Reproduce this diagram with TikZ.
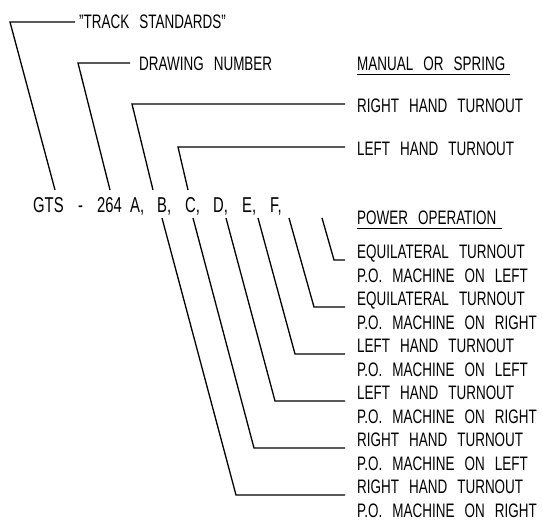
\documentclass[tikz,border=0pt]{standalone}
\usepackage{fontspec}
\setmainfont{Liberation Sans}[FakeStretch=0.69, WordSpace=2.7]
\usetikzlibrary{positioning}

\begin{document}
\begin{tikzpicture}[x=1pt, y=-1pt,
    lbl/.style={anchor=base west, inner sep=0pt, font=\fontsize{19.5}{23.5}\selectfont},
    code/.style={lbl, font=\fontsize{21.5}{24}\selectfont},
    entry/.style={lbl, anchor=north west, align=left},
    lead/.style={line width=1.3pt, line join=miter},
  ]
  \useasboundingbox (0,0) rectangle (543,520);

  % code string
  \node[code] (gts) at (33,212)  {GTS};
  \node[code] (dsh) at (78,212)  {-};
  \node[code] (num) at (97,212)  {264};
  \node[code] (la)  at (130,212) {A,};
  \node[code] (lb)  at (157,212) {B,};
  \node[code] (lc)  at (185,212) {C,};
  \node[code] (ld)  at (213,212) {D,};
  \node[code] (le)  at (242,212) {E,};
  \node[code] (lf)  at (270,212) {F,};

  % labels
  \node[lbl] (trk) at (79,28)   {"TRACK STANDARDS"};
  \node[lbl] (dwg) at (139,70)  {DRAWING NUMBER};
  \node[lbl] (man) at (357,70)  {MANUAL OR SPRING};
  \node[lbl] (rh)  at (357,112) {RIGHT HAND TURNOUT};
  \node[lbl] (lh)  at (357,155) {LEFT HAND TURNOUT};
  \node[lbl] (pwr) at (357,224) {POWER OPERATION};
  \node[entry] (e1) at (357,245) {EQUILATERAL TURNOUT\\P.O. MACHINE ON LEFT};
  \node[entry] (e2) at (357,292) {EQUILATERAL TURNOUT\\P.O. MACHINE ON RIGHT};
  \node[entry] (e3) at (357,339) {LEFT HAND TURNOUT\\P.O. MACHINE ON LEFT};
  \node[entry] (e4) at (357,386) {LEFT HAND TURNOUT\\P.O. MACHINE ON RIGHT};
  \node[entry] (e5) at (357,433) {RIGHT HAND TURNOUT\\P.O. MACHINE ON LEFT};
  \node[entry] (e6) at (357,480) {RIGHT HAND TURNOUT\\P.O. MACHINE ON RIGHT};

  % underlines
  \draw[lead] ([yshift=-4pt]man.south west) -- ([xshift=5pt,yshift=-4pt]man.south east);
  \draw[lead] ([yshift=-4pt]pwr.south west) -- ([xshift=5pt,yshift=-4pt]pwr.south east);

  % leader ends on the code string
  \coordinate (gts-g) at (55,190);
  \coordinate (gts-n) at (110,190);
  \coordinate (gts-a) at (153,190);
  \coordinate (gts-b) at (188,190);
  \coordinate (gts-1) at (322,218);
  \coordinate (gts-2) at (289,218);
  \coordinate (gts-3) at (258,218);
  \coordinate (gts-4) at (226,218);
  \coordinate (gts-5) at (193,218);
  \coordinate (gts-6) at (162,218);

  % corners
  \coordinate (trk-c) at (10,22);
  \coordinate (dwg-c) at (78,63);
  \coordinate (rh-c)  at (132,104);
  \coordinate (lh-c)  at (178,147);
  \coordinate (e1-c)  at (334,260);
  \coordinate (e2-c)  at (314,307);
  \coordinate (e3-c)  at (295,354);
  \coordinate (e4-c)  at (275,401);
  \coordinate (e5-c)  at (254,448);
  \coordinate (e6-c)  at (236,495);

  \draw[lead, shorten >=4pt]  (gts-g) -- (trk-c) -- (trk-c -| trk.west);
  \draw[lead, shorten >=9pt]  (gts-n) -- (dwg-c) -- (dwg-c -| dwg.west);
  \draw[lead, shorten >=12pt] (gts-a) -- (rh-c) -- (rh-c -| rh.west);
  \draw[lead, shorten >=12pt] (gts-b) -- (lh-c) -- (lh-c -| lh.west);
  \draw[lead, shorten >=12pt] (gts-1) -- (e1-c) -- (e1-c -| e1.west);
  \draw[lead, shorten >=12pt] (gts-2) -- (e2-c) -- (e2-c -| e2.west);
  \draw[lead, shorten >=12pt] (gts-3) -- (e3-c) -- (e3-c -| e3.west);
  \draw[lead, shorten >=12pt] (gts-4) -- (e4-c) -- (e4-c -| e4.west);
  \draw[lead, shorten >=12pt] (gts-5) -- (e5-c) -- (e5-c -| e5.west);
  \draw[lead, shorten >=12pt] (gts-6) -- (e6-c) -- (e6-c -| e6.west);
\end{tikzpicture}
\end{document}
